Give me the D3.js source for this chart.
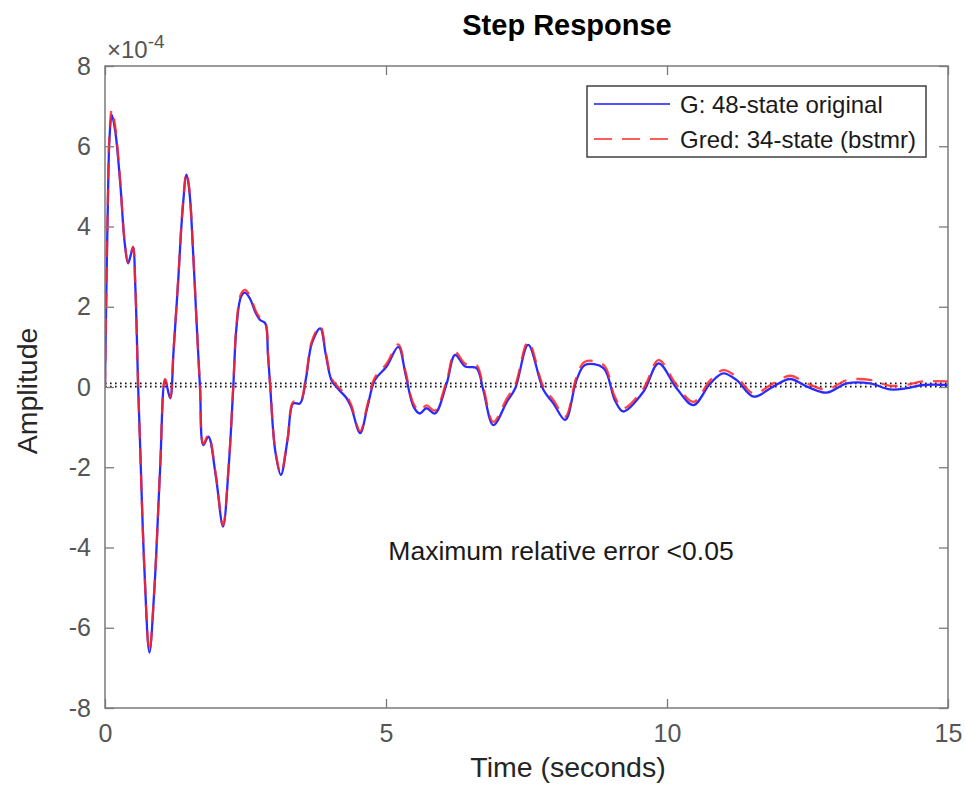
<!DOCTYPE html>
<html>
<head>
<meta charset="utf-8">
<script src="https://cdn.jsdelivr.net/npm/d3@7"></script>
<style>
  html, body { margin: 0; padding: 0; background: #fff; }
  svg { display: block; font-family: "Liberation Sans", Arial, Helvetica, sans-serif; }
</style>
</head>
<body>
<svg id="chart" width="966" height="785"></svg>
<script>
// Step response of the full model and the reduced model (amplitude in units of 1e-4)
const timeSec = [0, 0.02, 0.05, 0.08, 0.12, 0.18, 0.27, 0.35, 0.41, 0.46, 0.50, 0.54, 0.59, 0.62, 0.70, 0.79, 0.88, 0.98, 1.07, 1.16, 1.22, 1.30, 1.38, 1.45, 1.50, 1.57, 1.63, 1.69, 1.75, 1.84, 1.97, 2.10, 2.20, 2.28, 2.34, 2.42, 2.49, 2.58, 2.68, 2.76, 2.85, 2.90, 2.94, 3.03, 3.13, 3.25, 3.35, 3.47, 3.58, 3.68, 3.83, 3.93, 4.03, 4.15, 4.30, 4.38, 4.54, 4.67, 4.80, 5.01, 5.22, 5.35, 5.49, 5.60, 5.72, 5.87, 6.08, 6.23, 6.41, 6.61, 6.73, 6.91, 7.15, 7.30, 7.53, 7.80, 7.98, 8.19, 8.39, 8.54, 8.87, 9.07, 9.22, 9.58, 9.85, 10.17, 10.47, 10.77, 11.00, 11.24, 11.54, 11.89, 12.19, 12.49, 12.84, 13.20, 13.61, 13.97, 14.27, 14.56, 15.00];

const gOriginal = [0, 2.0, 4.5, 6.2, 6.78, 6.4, 5.1, 3.6, 3.08, 3.3, 3.48, 2.5, 0, -1.24, -4.5, -6.62, -5.0, -2.07, 0.17, -0.28, 0.9, 2.6, 4.4, 5.29, 4.9, 3.3, 1.6, 0, -1.45, -1.24, -2.2, -3.48, -2.0, -0.07, 1.5, 2.25, 2.35, 2.2, 1.85, 1.67, 1.59, 0.8, 0, -1.6, -2.19, -1.3, -0.41, -0.41, 0.25, 1.09, 1.46, 0.8, 0.17, -0.05, -0.28, -0.5, -1.15, -0.5, 0.17, 0.51, 1.0, 0.3, -0.49, -0.66, -0.53, -0.66, 0.09, 0.8, 0.51, 0.47, -0.07, -0.95, -0.37, -0.03, 1.05, -0.07, -0.41, -0.82, 0.17, 0.55, 0.47, -0.32, -0.61, -0.12, 0.59, -0.03, -0.45, 0.09, 0.34, 0.17, -0.24, 0.01, 0.2, 0.01, -0.14, 0.09, 0.09, -0.06, -0.03, 0.05, 0.05];

const gReduced = [0, 2.0, 4.6, 6.3, 6.9, 6.5, 5.15, 3.62, 3.1, 3.32, 3.5, 2.5, 0, -1.24, -4.5, -6.6, -5.0, -2.05, 0.2, -0.26, 0.92, 2.62, 4.45, 5.35, 4.95, 3.32, 1.62, 0.02, -1.42, -1.2, -2.17, -3.45, -1.98, -0.04, 1.55, 2.32, 2.42, 2.27, 1.9, 1.72, 1.63, 0.84, 0.03, -1.57, -2.15, -1.27, -0.37, -0.37, 0.3, 1.14, 1.52, 0.85, 0.22, 0.0, -0.22, -0.45, -1.1, -0.44, 0.23, 0.58, 1.06, 0.37, -0.42, -0.59, -0.46, -0.59, 0.16, 0.87, 0.58, 0.55, 0.0, -0.87, -0.29, 0.05, 1.13, 0.01, -0.33, -0.74, 0.25, 0.63, 0.55, -0.24, -0.53, -0.04, 0.67, 0.05, -0.37, 0.17, 0.42, 0.25, -0.16, 0.09, 0.28, 0.09, -0.06, 0.17, 0.18, 0.03, 0.06, 0.14, 0.14];

// Steady-state values (dotted reference lines)
const steadyValues = [0.01, 0.09];

const xTicks = [0, 5, 10, 15];
const yTicks = [-8, -6, -4, -2, 0, 2, 4, 6, 8];

const seriesNames = ["G: 48-state original", "Gred: 34-state (bstmr)"];

const svg = d3.select("#chart");
const plot = { left: 105, right: 948, top: 66, bottom: 708 };

const x = d3.scaleLinear().domain([0, 15]).range([plot.left, plot.right]);
const y = d3.scaleLinear().domain([-8, 8]).range([plot.bottom, plot.top]);

const axisColor = "#7a7a7a";
const labelColor = "#555";

// clip for the data lines
svg.append("defs").append("clipPath").attr("id", "plotClip")
  .append("rect")
  .attr("x", plot.left).attr("y", plot.top)
  .attr("width", plot.right - plot.left).attr("height", plot.bottom - plot.top);

// steady-state dotted lines
svg.append("g").selectAll("line").data(steadyValues).join("line")
  .attr("x1", plot.left).attr("x2", plot.right)
  .attr("y1", d => y(d)).attr("y2", d => y(d))
  .attr("stroke", "#111").attr("stroke-width", 1.6)
  .attr("stroke-dasharray", "1.6,3.4");

const line = d3.line()
  .x((d, i) => x(timeSec[i]))
  .y(d => y(d))
  .curve(d3.curveCatmullRom.alpha(0.5));

const lines = svg.append("g").attr("clip-path", "url(#plotClip)");
lines.append("path").datum(gOriginal)
  .attr("d", line).attr("fill", "none")
  .attr("stroke", "#2b2bff").attr("stroke-width", 2.3)
  .attr("stroke-linejoin", "round");
lines.append("path").datum(gReduced)
  .attr("d", line).attr("fill", "none")
  .attr("stroke", "#ff2424").attr("stroke-width", 2.3)
  .attr("stroke-dasharray", "16,10").attr("opacity", 0.85);

// frame
svg.append("rect")
  .attr("x", plot.left).attr("y", plot.top)
  .attr("width", plot.right - plot.left).attr("height", plot.bottom - plot.top)
  .attr("fill", "none").attr("stroke", axisColor).attr("stroke-width", 1.5);

// axes with inward ticks on all four sides
const tickLen = 9;
const xAxisB = d3.axisBottom(x).tickValues(xTicks).tickSize(-tickLen).tickPadding(16).tickFormat(d3.format("d"));
const xAxisT = d3.axisTop(x).tickValues(xTicks).tickSize(-tickLen).tickFormat("");
const yAxisL = d3.axisLeft(y).tickValues(yTicks).tickSize(-tickLen).tickPadding(14).tickFormat(d => d < 0 ? "-" + Math.abs(d) : d);
const yAxisR = d3.axisRight(y).tickValues(yTicks).tickSize(-tickLen).tickFormat("");

function styleAxis(g) {
  g.select(".domain").remove();
  g.selectAll(".tick line").attr("stroke", axisColor).attr("stroke-width", 1.3);
  g.selectAll(".tick text").attr("fill", labelColor).attr("font-size", 25)
    .attr("font-family", "Liberation Sans, Arial, sans-serif");
}

svg.append("g").attr("transform", `translate(0,${plot.bottom})`).call(xAxisB).call(styleAxis);
svg.append("g").attr("transform", `translate(0,${plot.top})`).call(xAxisT).call(styleAxis);
svg.append("g").attr("transform", `translate(${plot.left},0)`).call(yAxisL).call(styleAxis);
svg.append("g").attr("transform", `translate(${plot.right},0)`).call(yAxisR).call(styleAxis);

// exponent label
const expo = svg.append("text").attr("x", 107).attr("y", 58)
  .attr("fill", labelColor).attr("font-size", 24);
expo.append("tspan").text("\u00d710");
expo.append("tspan").attr("dy", -10).attr("font-size", 19).text("-4");

// title and axis labels
const labelCenterX = 567;
svg.append("text").attr("x", labelCenterX).attr("y", 35)
  .attr("text-anchor", "middle").attr("font-size", 29).attr("font-weight", "bold")
  .attr("fill", "#000").text("Step Response");

svg.append("text").attr("x", labelCenterX + 1).attr("y", 777)
  .attr("text-anchor", "middle").attr("font-size", 28.5).attr("fill", "#262626")
  .text("Time (seconds)");

svg.append("text")
  .attr("transform", `translate(37,${(plot.top + plot.bottom) / 2 + 4}) rotate(-90)`)
  .attr("text-anchor", "middle").attr("font-size", 28.5).attr("fill", "#262626")
  .text("Amplitude");

// annotation
svg.append("text").attr("x", 561).attr("y", 560)
  .attr("text-anchor", "middle").attr("font-size", 26.5).attr("fill", "#1a1a1a")
  .text("Maximum relative error <0.05");

// legend
const legend = svg.append("g");
legend.append("rect").attr("x", 587).attr("y", 86).attr("width", 339).attr("height", 71)
  .attr("fill", "#fff").attr("stroke", "#333").attr("stroke-width", 1.4);
const legendStyles = [
  { stroke: "#5050ff", dash: null },
  { stroke: "#ff5c5c", dash: "18,10" }
];
seriesNames.forEach((name, i) => {
  const cy = 104 + i * 35;
  legend.append("line").attr("x1", 594).attr("x2", 670).attr("y1", cy).attr("y2", cy)
    .attr("stroke", legendStyles[i].stroke).attr("stroke-width", 2.2)
    .attr("stroke-dasharray", legendStyles[i].dash);
  legend.append("text").attr("x", 680).attr("y", cy + 8.5)
    .attr("font-size", 24).attr("fill", "#1a1a1a").text(name);
});
</script>
</body>
</html>
